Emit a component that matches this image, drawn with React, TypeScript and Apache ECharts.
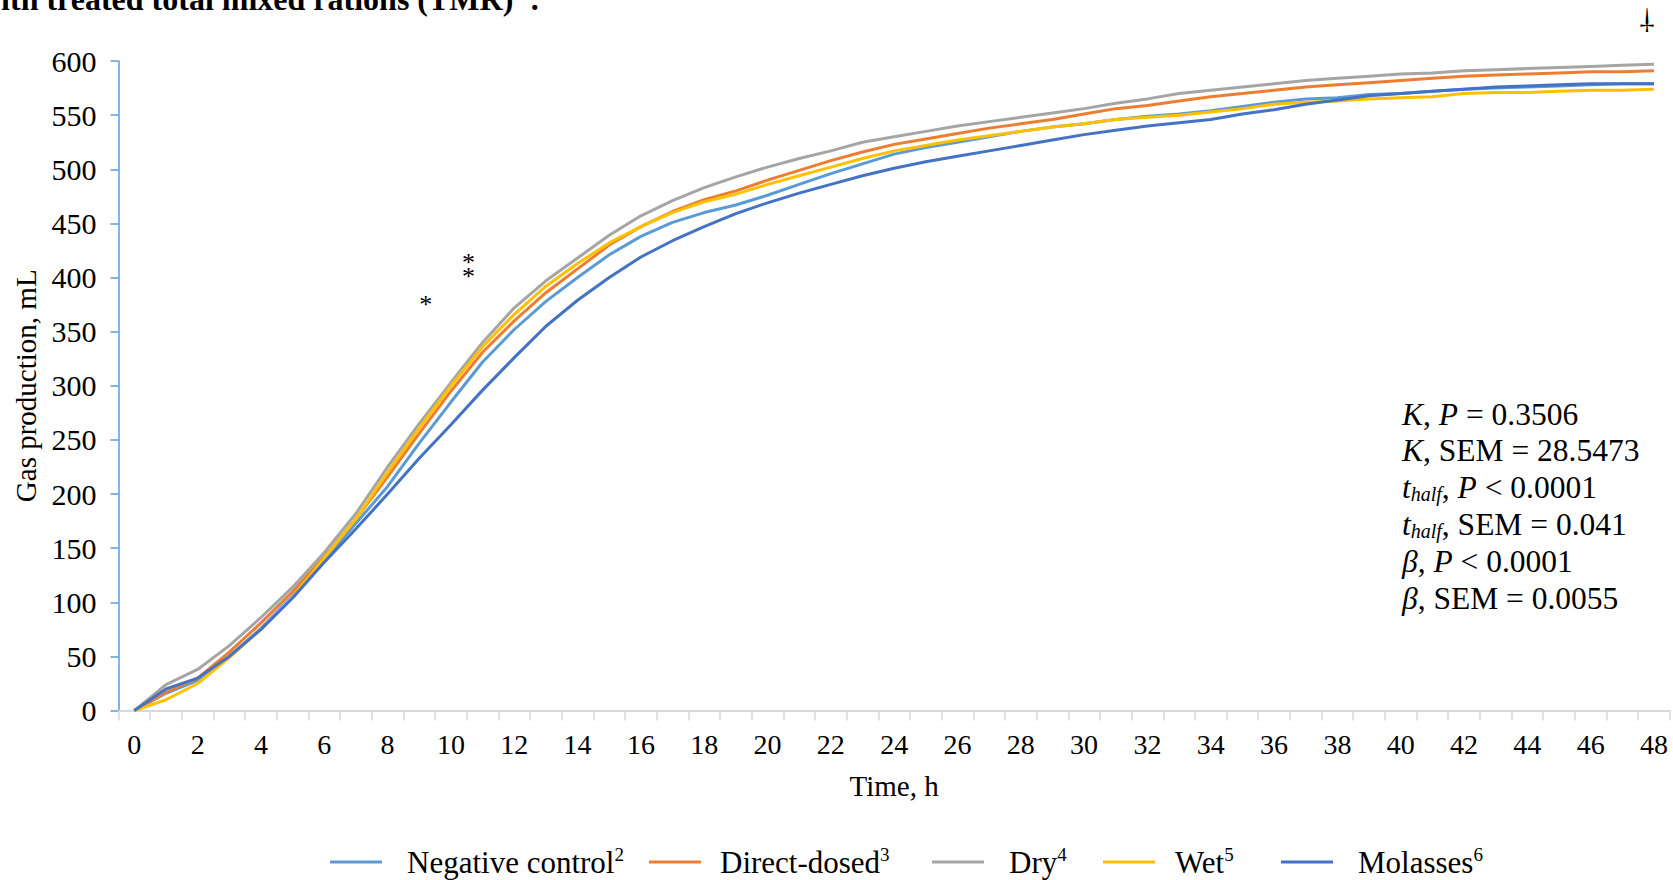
import React, { useEffect, useRef } from "react";
import * as echarts from "echarts";

const hours = ["0","1","2","3","4","5","6","7","8","9","10","11","12","13","14","15","16","17","18","19","20","21","22","23","24","25","26","27","28","29","30","31","32","33","34","35","36","37","38","39","40","41","42","43","44","45","46","47","48"];

const negativeControl = [0,16,28,50,76,106,139,173,207,247,285,322,352,378,400,421,438,451,460,467,476,486,496,505,514,520,525,530,535,539,542,546,549,551,554,558,562,565,566,569,570,572,574,575,576,577,578,579,579];
const directDosed = [0,17,30,54,81,110,142,177,216,256,295,331,360,386,408,430,447,461,472,480,490,499,508,516,523,528,533,538,542,546,551,556,559,563,567,570,573,576,578,580,582,584,586,587,588,589,590,590,591];
const dry = [0,24,38,60,86,114,146,182,225,265,303,340,372,397,418,439,457,471,483,493,502,510,517,525,530,535,540,544,548,552,556,561,565,570,573,576,579,582,584,586,588,589,591,592,593,594,595,596,597];
const wet = [0,10,25,49,75,105,141,177,220,261,300,336,366,392,413,432,447,460,470,477,486,494,502,510,517,522,527,531,535,539,542,546,548,550,553,556,560,562,563,565,566,567,570,571,571,572,573,573,574];
const molasses = [0,20,30,50,75,104,137,168,200,233,264,296,326,355,379,400,419,434,447,459,469,478,486,494,501,507,512,517,522,527,532,536,540,543,546,551,555,560,564,568,570,572,574,576,577,578,579,579,579];

const seriesNames = ["Negative control", "Direct-dosed", "Dry", "Wet", "Molasses"];
const seriesSuperscripts = ["2", "3", "4", "5", "6"];
const seriesValues = [negativeControl, directDosed, dry, wet, molasses];
const seriesColors = ["#5B9BD5", "#ED7D31", "#A5A5A5", "#FFC000", "#4472C4"];

const yMin = 0;
const yMax = 600;
const yInterval = 50;

const statLines = [
  "{i|K}, {i|P} = 0.3506",
  "{i|K}, SEM = 28.5473",
  "{i|t}{sub|half}, {i|P} < 0.0001",
  "{i|t}{sub|half}, SEM = 0.041",
  "{i|β}, {i|P} < 0.0001",
  "{i|β}, SEM = 0.0055",
];

const FONT = "'Liberation Serif', 'Times New Roman', serif";

export default function App() {
  const ref = useRef<HTMLDivElement>(null);

  useEffect(() => {
    if (!ref.current) return;
    const chart = echarts.init(ref.current, null, { renderer: "svg" });

    const legendIconLeft = [330, 649, 932, 1103, 1281];
    const legendTextPad = [20, 14, 20, 15, 20];

    const legends = seriesNames.map((name, i) => ({
      data: [name],
      left: legendIconLeft[i],
      top: 845,
      padding: 0,
      itemGap: 0,
      icon: "rect",
      itemWidth: 52,
      itemHeight: 3,
      formatter: (n: string) => `{n|${n}}{s|${seriesSuperscripts[i]}}`,
      textStyle: {
        fontFamily: FONT,
        fontSize: 31,
        color: "#000",
        rich: {
          n: { fontFamily: FONT, fontSize: 31, color: "#000", lineHeight: 34, padding: [0, 0, 0, legendTextPad[i]] },
          s: { fontFamily: FONT, fontSize: 19, color: "#000", verticalAlign: "top", lineHeight: 19 },
        },
      },
    }));

    const statTexts = statLines.map((t, i) => ({
      type: "text",
      x: 1402,
      y: 414 + i * 36.9,
      silent: true,
      style: {
        text: t,
        fontFamily: FONT,
        fontSize: 31.5,
        fill: "#000",
        align: "left",
        verticalAlign: "middle",
        rich: {
          i: { fontFamily: FONT, fontSize: 31.5, fontStyle: "italic", fill: "#000" },
          sub: { fontFamily: FONT, fontSize: 20, fontStyle: "italic", fill: "#000", verticalAlign: "bottom", lineHeight: 22 },
        },
      },
    }));

    const option: any = {
      animation: false,
      backgroundColor: "#fff",
      grid: { left: 118.5, right: 3.2, top: 61, bottom: 169.4, containLabel: false },
      legend: legends,
      xAxis: {
        type: "category",
        data: hours,
        boundaryGap: true,
        name: "Time, h",
        nameLocation: "middle",
        nameGap: 61,
        nameTextStyle: { fontFamily: FONT, fontSize: 29, color: "#000" },
        axisLine: { show: true, lineStyle: { color: "#D9D9D9", width: 2 } },
        axisTick: { show: true, interval: 0, length: 10, lineStyle: { color: "#D9D9D9", width: 1.5 } },
        axisLabel: { interval: 1, fontFamily: FONT, fontSize: 28, color: "#000", margin: 20 },
        splitLine: { show: false },
      },
      yAxis: {
        type: "value",
        min: yMin,
        max: yMax,
        interval: yInterval,
        name: "Gas production, mL",
        nameLocation: "middle",
        nameGap: 78,
        nameTextStyle: { fontFamily: FONT, fontSize: 29, color: "#000" },
        axisLine: { show: true, lineStyle: { color: "#5B9BD5", width: 1.5 } },
        axisTick: { show: true, length: 8, lineStyle: { color: "#5B9BD5", width: 1.5 } },
        axisLabel: { fontFamily: FONT, fontSize: 30, color: "#000", margin: 22 },
        splitLine: { show: false },
      },
      series: seriesNames.map((name, i) => ({
        name,
        type: "line",
        data: seriesValues[i],
        symbol: "none",
        showSymbol: false,
        smooth: false,
        lineStyle: { color: seriesColors[i], width: 3 },
        itemStyle: { color: seriesColors[i] },
        emphasis: { disabled: true },
      })),
      graphic: [
        {
          type: "text",
          x: -22,
          y: -1,
          silent: true,
          style: {
            text: "with treated total mixed rations (TMR) {s|1}.",
            fontFamily: FONT,
            fontSize: 32,
            fontWeight: "bold",
            fill: "#000",
            align: "left",
            verticalAlign: "middle",
            rich: { s: { fontFamily: FONT, fontSize: 19, fontWeight: "bold", fill: "#000", verticalAlign: "top", lineHeight: 14 } },
          },
        },
        {
          type: "text",
          x: 1647,
          y: 22,
          rotation: Math.PI,
          silent: true,
          style: { text: "†", fontFamily: FONT, fontSize: 30, fill: "#000", align: "center", verticalAlign: "middle" },
        },
        {
          type: "text",
          x: 425.7,
          y: 304,
          silent: true,
          style: { text: "*", fontFamily: FONT, fontSize: 26, fill: "#000", align: "center", verticalAlign: "middle" },
        },
        {
          type: "text",
          x: 468.4,
          y: 269.5,
          silent: true,
          style: { text: "*\n*", fontFamily: FONT, fontSize: 26, lineHeight: 14, fill: "#000", align: "center", verticalAlign: "middle" },
        },
        ...statTexts,
      ],
    };

    chart.setOption(option);
    return () => chart.dispose();
  }, []);

  return (
    <div
      ref={ref}
      style={{ position: "fixed", left: 0, top: 0, width: 1673, height: 880, background: "#fff" }}
    />
  );
}
